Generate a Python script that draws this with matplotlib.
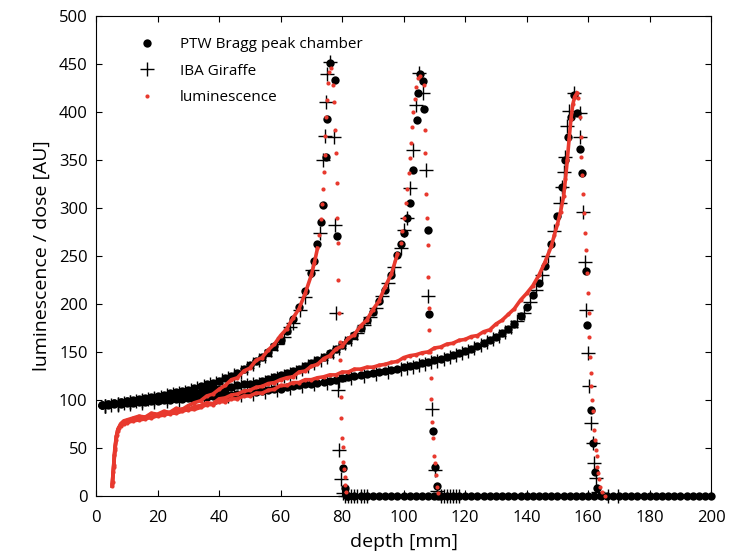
import numpy as np
import matplotlib
matplotlib.use("Agg")
import matplotlib.pyplot as plt

plt.rcParams['font.family'] = ['Open Sans', 'DejaVu Sans']

# ---- PTW Bragg peak chamber (dots), three energies ----
ptw1_depth = [2, 4, 6, 8, 10, 12, 14, 16, 18, 20, 22, 24, 26, 28, 30, 32, 34, 36, 38, 40,
              42, 44, 46, 48, 50, 52, 54, 56, 58, 60, 62, 64, 66, 68, 70, 71, 72, 73,
              73.8, 74.8, 75.1, 76.1, 77.7, 78.4, 80.3, 80.8, 81.5]
ptw1_dose = [95, 96, 97, 98, 99, 100, 101, 102, 103, 104, 105, 107, 108, 109, 110, 112, 114, 116, 118, 120,
             123, 125, 128, 132, 136, 140, 145, 150, 156, 162, 172, 184, 197, 213, 232, 245, 262, 285,
             303, 353, 393, 451, 433, 271, 29, 8, 0]

ptw2_depth = [2, 4, 6, 8, 10, 12, 14, 16, 18, 20, 22, 24, 26, 28, 30, 32, 34, 36, 38, 40,
              42, 44, 46, 48, 50, 52, 54, 56, 58, 60, 62, 64, 66, 68, 70, 72, 74, 76, 78, 80,
              82, 84, 86, 88, 90, 92, 94, 96, 98, 99, 100, 101, 102, 103,
              104.4, 104.7, 105.3, 106.3, 106.7, 108, 108.3, 109.6, 110.2, 110.7, 111.3]
ptw2_dose = [95, 96, 97, 98, 99, 99, 100, 101, 102, 103, 103, 104, 105, 105, 106, 107, 108, 109, 110, 111,
             112, 113, 115, 116, 117, 118, 120, 122, 124, 126, 128, 130, 132, 135, 138, 141, 145, 149, 153, 157,
             162, 168, 175, 183, 192, 203, 215, 230, 251, 262, 274, 290, 305, 340,
             392, 420, 440, 432, 403, 277, 189, 68, 30, 10, 0]

ptw3_depth = [2, 4, 6, 8, 10, 12, 14, 16, 18, 20, 22, 24, 26, 28, 30, 32, 34, 36, 38, 40,
              42, 44, 46, 48, 50, 52, 54, 56, 58, 60, 62, 64, 66, 68, 70, 72, 74, 76, 78, 80,
              82, 84, 86, 88, 90, 92, 94, 96, 98, 100, 102, 104, 106, 108, 110, 112, 114, 116, 118, 120,
              122, 124, 126, 128, 130, 132, 134, 136, 138, 140, 142, 144, 146, 148, 150,
              151.5, 152.5, 153.5, 154.5, 155.4, 156.4, 157.4, 158, 159.3, 159.7, 161, 161.6, 162.3, 163]
ptw3_dose = [95, 95, 96, 96, 97, 97, 98, 98, 99, 99, 100, 100, 101, 101, 102, 102, 103, 103, 104, 104,
             105, 105, 106, 107, 107, 108, 109, 110, 111, 111, 113, 114, 115, 116, 117, 118, 119, 120, 121, 123,
             124, 125, 126, 127, 128, 129, 130, 131, 132, 134, 135, 136, 138, 139, 141, 143, 145, 147, 149, 151,
             153, 156, 159, 162, 166, 170, 174, 179, 187, 197, 209, 222, 240, 262, 292,
             322, 350, 374, 395, 418, 399, 361, 336, 234, 178, 89, 55, 25, 8]

# chamber readings beyond the distal edges
tail_depth = [82, 84, 86, 88, 90, 92, 94, 96, 98, 100, 102, 104, 106, 108, 110, 112, 114, 116, 118, 120,
              122, 124, 126, 128, 130, 132, 134, 136, 138, 140, 142, 144, 146, 148, 150, 152, 154, 156, 158, 160,
              162, 164, 166, 168, 170, 172, 174, 176, 178, 180, 182, 184, 186, 188, 190, 192, 194, 196, 198, 200]
tail_dose = [0, 0, 0, 0, 0, 0, 0, 0, 0, 0, 0, 0, 0, 0, 0, 0, 0, 0, 0, 0,
             0, 0, 0, 0, 0, 0, 0, 0, 0, 0, 0, 0, 0, 0, 0, 0, 0, 0, 0, 0,
             0, 0, 0, 0, 0, 0, 0, 0, 0, 0, 0, 0, 0, 0, 0, 0, 0, 0, 0, 0]

# ---- IBA Giraffe (plus) ----
iba1_depth = [3, 5, 7, 9, 11, 13, 15, 17, 19, 21, 23, 25, 27, 29, 31, 33, 35, 37, 39, 41,
              43, 45, 47, 49, 51, 53, 55, 57, 59, 61, 63, 64, 66.3, 68, 70.2, 72.8,
              73.8, 74.5, 74.8, 75.1, 76.1, 77.4, 77.7, 78, 78.8, 79.1, 79.6, 80.2,
              81, 82, 83, 84, 85, 86, 87, 88]
iba1_dose = [94, 95, 96, 97, 98, 99, 100, 101, 102, 103, 105, 106, 107, 108, 110, 112, 114, 116, 118, 121,
             123, 126, 129, 133, 137, 141, 146, 152, 158, 166, 176, 180, 194, 207, 235, 274,
             350, 375, 410, 440, 452, 374, 282, 190, 110, 48, 17, 3,
             0, 0, 0, 0, 0, 0, 0, 0]

iba2_depth = [3, 7, 11, 15, 19, 23, 27, 31, 35, 39, 41, 43, 45, 47, 49, 51, 53, 55, 57, 59,
              61, 63, 65, 67, 69, 71, 73, 75, 77, 79, 81, 83, 85, 87, 89, 91, 93, 95, 97, 99,
              100.2, 101, 102, 103.1, 104, 105, 106.3, 107.3, 108, 109.3, 110.2, 110.8,
              112, 113, 114, 115, 116, 117, 118]
iba2_dose = [94, 96, 98, 99, 101, 102, 104, 105, 107, 109, 110, 111, 112, 114, 115, 116, 117, 119, 121, 123,
             125, 127, 129, 132, 135, 138, 141, 145, 150, 154, 159, 163, 170, 178, 186, 196, 208, 222, 238, 258,
             277, 290, 321, 360, 407, 441, 420, 340, 208, 90, 27, 5,
             0, 0, 0, 0, 0, 0, 0]

iba3_depth = [3, 7, 11, 15, 19, 23, 27, 31, 35, 39, 43, 47, 51, 55, 59, 63, 67, 71, 75, 79,
              83, 87, 91, 95, 99, 101, 103, 105, 107, 109, 111, 113, 115, 117, 119, 121, 123, 125, 127, 129,
              131, 133, 135, 137, 139, 141, 143, 145, 147, 149, 150.9, 151.6, 152.2, 152.5, 153.2, 153.8,
              155.4, 157.4, 157.4, 158.4, 159, 159.4, 160, 160.3, 161, 161.6, 162, 162.6, 163.3, 166.5, 169.8]
iba3_dose = [94, 95, 96, 97, 98, 99, 100, 101, 102, 103, 104, 105, 106, 108, 110, 112, 114, 116, 118, 120,
             123, 125, 127, 129, 132, 133, 134, 136, 137, 139, 140, 143, 145, 147, 149, 151, 154, 157, 160, 163,
             167, 171, 176, 182, 191, 202, 214, 230, 250, 276, 305, 322, 337, 353, 385, 401,
             420, 399, 374, 296, 244, 194, 149, 114, 76, 55, 34, 19, 4, 0, 0]

# ---- luminescence (red) ----
lum1_depth = [5.2, 5.6, 6, 6.5, 7, 8, 9, 10, 12, 14, 16, 18, 20, 22, 24, 26, 28, 30, 32, 34,
              36, 38, 40, 42, 44, 46, 48, 50, 52, 54, 56, 58, 60, 62, 64, 66, 68, 70, 71, 72,
              72.6, 73, 73.4, 73.7, 74, 74.3, 74.6, 74.9, 75.2, 75.5, 75.9, 76.4,
              77.2, 77.5, 77.8, 78, 78.2, 78.4, 78.6, 78.8, 79, 79.2, 79.3, 79.5, 79.8,
              80, 80.2, 80.4, 80.6, 80.8, 81, 81.3]
lum1_dose = [10, 25, 42, 58, 68, 75, 78, 79, 81, 83, 82, 86, 85, 88, 87, 91, 90, 94, 97, 99,
             104, 106, 111, 115, 121, 123, 130, 133, 141, 144, 152, 158, 167, 174, 185, 195, 211, 230, 243, 258,
             272, 288, 304, 320, 337, 355, 375, 395, 413, 430, 442, 446,
             428, 410, 381, 357, 326, 290, 263, 225, 190, 160, 141, 103, 81,
             60, 51, 35, 28, 20, 11, 4]

lum2_depth = [5.3, 5.7, 6.1, 6.6, 7.2, 8, 9, 10, 12, 14, 16, 18, 20, 22, 24, 26, 28, 30, 32, 34,
              36, 38, 40, 42, 44, 46, 48, 50, 52, 54, 56, 58, 60, 62, 64, 66, 68, 70, 72, 74,
              76, 78, 80, 82, 84, 86, 88, 90, 92, 94, 96, 98,
              99, 99.6, 100.2, 100.7, 101.2, 101.6, 102, 102.4, 102.8, 103.2, 103.6, 104, 104.6, 105.4,
              106.5, 106.8, 107, 107.3, 107.6, 107.8, 108, 108.2, 108.4, 108.6, 108.8, 109, 109.3,
              109.6, 109.9, 110.1, 110.4, 110.8, 111.2]
lum2_dose = [12, 30, 48, 62, 70, 74, 76, 77, 79, 80, 82, 81, 84, 86, 85, 88, 90, 89, 93, 94,
             97, 96, 101, 102, 105, 106, 109, 110, 113, 114, 117, 118, 121, 123, 124, 129, 130, 135, 137, 143,
             146, 153, 156, 164, 168, 177, 183, 194, 203, 218, 231, 252,
             264, 276, 290, 305, 320, 336, 352, 368, 384, 400, 414, 426, 435, 438,
             428, 381, 357, 315, 290, 261, 228, 196, 173, 150, 123, 101, 77,
             60, 41, 34, 22, 9, 3]

lum3_depth = [5.4, 5.8, 6.2, 6.8, 7.5, 8, 9, 10, 12, 14, 16, 18, 20, 22, 24, 26, 28, 30, 32, 34,
              36, 38, 40, 42, 44, 46, 48, 50, 52, 54, 56, 58, 60, 62, 64, 66, 68, 70, 72, 74,
              76, 78, 80, 82, 84, 86, 88, 90, 92, 94, 96, 98, 100, 102, 104, 106, 108, 110, 112, 114,
              116, 118, 120, 122, 124, 126, 128, 130, 132, 134, 136, 138, 140, 142, 144, 146, 148, 149, 150, 151,
              152, 152.6, 153.2, 153.8, 154.4, 155, 155.6, 156.4,
              156.8, 157.2, 157.5, 157.8, 158.1, 158.4, 158.7, 159, 159.3, 159.6, 159.9, 160.2, 160.4, 160.6,
              160.8, 161, 161.3, 161.5, 161.8, 162.1, 162.4, 162.7, 162.9, 163.1, 163.4, 163.9, 164.5, 165.3]
lum3_dose = [14, 32, 50, 63, 71, 73, 75, 76, 78, 79, 80, 82, 83, 84, 86, 86, 88, 90, 90, 92,
             95, 95, 98, 98, 101, 101, 104, 104, 107, 107, 110, 111, 115, 115, 118, 118, 121, 121, 123, 124,
             126, 126, 129, 129, 132, 132, 134, 134, 136, 137, 139, 140, 144, 146, 147, 149, 150, 154, 155, 158,
             159, 162, 163, 166, 167, 171, 173, 179, 183, 189, 195, 204, 211, 219, 230, 244, 260, 272, 283, 296,
             312, 330, 350, 372, 393, 408, 416, 420,
             415, 395, 374, 353, 334, 315, 295, 274, 256, 232, 211, 190, 166, 145,
             128, 114, 100, 88, 69, 58, 48, 41, 30, 24, 17, 9, 4, 0]

# where the measured luminescence is dense enough to look like a line
lum_line_end = [72, 98, 156.4]

fig, ax = plt.subplots(figsize=(7.44, 5.57), dpi=100)
fig.subplots_adjust(left=0.129, right=0.956, bottom=0.11, top=0.971)

dot_kw = dict(ls='none', marker='o', ms=6.0, color='black', mec='none', zorder=2, clip_on=False)
plus_kw = dict(ls='none', marker='+', ms=10, mew=1.0, color='black', zorder=2, clip_on=False)
red_kw = dict(ls='none', marker='o', ms=3.0, color='#e8392e', mec='none', zorder=3, clip_on=False)

ax.plot(tail_depth, tail_dose, **dot_kw)
ax.plot(ptw3_depth, ptw3_dose, **dot_kw)
ax.plot(ptw2_depth, ptw2_dose, **dot_kw)
ax.plot(ptw1_depth, ptw1_dose, label='PTW Bragg peak chamber', **dot_kw)
ax.plot(iba3_depth, iba3_dose, **plus_kw)
ax.plot(iba2_depth, iba2_dose, **plus_kw)
ax.plot(iba1_depth, iba1_dose, label='IBA Giraffe', **plus_kw)

for d, v, end in zip([lum1_depth, lum2_depth, lum3_depth],
                     [lum1_dose, lum2_dose, lum3_dose], lum_line_end):
    d = np.array(d)
    v = np.array(v)
    m = d <= end
    ax.plot(d[m], v[m], color='#e8392e', lw=2.6, zorder=3)
ax.plot(lum3_depth, lum3_dose, **red_kw)
ax.plot(lum2_depth, lum2_dose, **red_kw)
ax.plot(lum1_depth, lum1_dose, label='luminescence', **red_kw)

ax.set_xlim(0, 200)
ax.set_ylim(0, 500)
ax.set_xticks(np.arange(0, 201, 20))
ax.set_yticks(np.arange(0, 501, 50))
ax.tick_params(direction='in', top=True, right=True, length=4, width=0.8, labelsize=12)
ax.tick_params(axis='x', pad=10)
ax.tick_params(axis='y', pad=6)
for s in ax.spines.values():
    s.set_linewidth(0.8)
ax.set_xlabel('depth [mm]', fontsize=14, labelpad=5)
ax.set_ylabel('luminescence / dose [AU]', fontsize=14, labelpad=6)

leg = ax.legend(loc='upper left', bbox_to_anchor=(0.045, 0.985), frameon=False, fontsize=11,
                handlelength=1.2, handletextpad=1.6, labelspacing=0.75, markerscale=1.0)

plt.savefig('out.png', dpi=100)
